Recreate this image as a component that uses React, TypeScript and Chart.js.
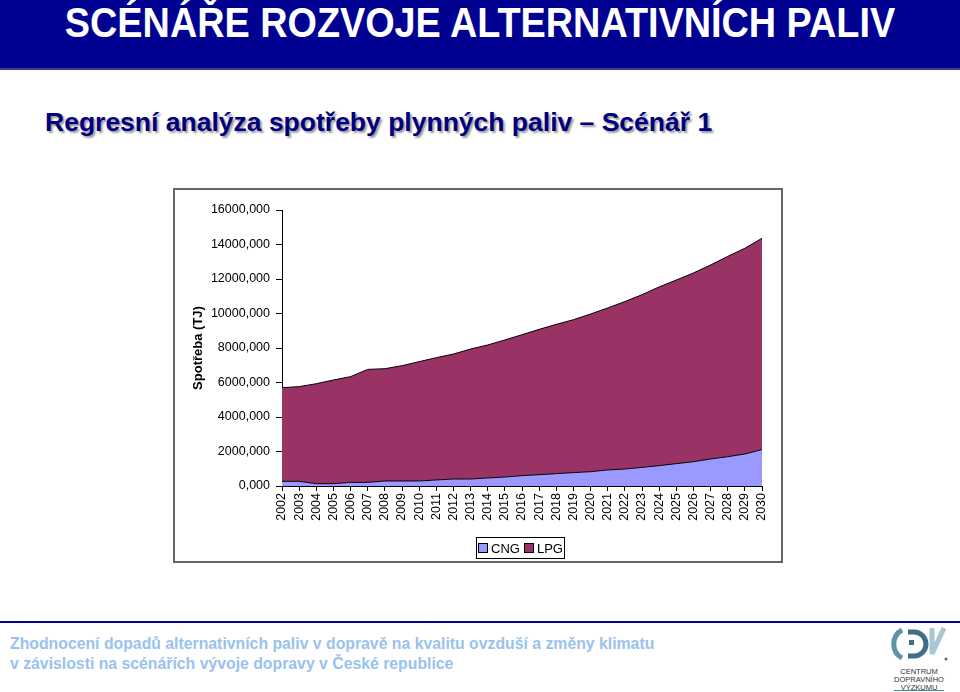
import React, { useEffect, useRef } from 'react';
import { Chart, registerables } from 'chart.js';

Chart.register(...registerables);

const years = ['2002','2003','2004','2005','2006','2007','2008','2009','2010','2011','2012','2013','2014','2015','2016','2017','2018','2019','2020','2021','2022','2023','2024','2025','2026','2027','2028','2029','2030'];
const cngValues = [270,270,135,135,210,210,290,290,290,350,405,405,465,520,600,655,715,775,830,930,985,1080,1180,1295,1410,1565,1700,1855,2110];
const lpgValues = [5430,5490,5795,6010,6130,6550,6510,6685,6920,7090,7245,7535,7710,7945,8170,8425,8655,8865,9140,9390,9705,10010,10360,10645,10940,11245,11610,11925,12250];
const seriesNames = ['CNG', 'LPG'];
const seriesColors = ['#9999ff', '#993366'];
const yMax = 16000;
const yStep = 2000;

const FONT = '"Liberation Sans", Arial, sans-serif';

function ChartBox() {
  const ref = useRef<HTMLCanvasElement | null>(null);
  useEffect(() => {
    if (!ref.current) return;
    const chart = new Chart(ref.current, {
      type: 'line',
      data: {
        labels: years,
        datasets: [
          {
            label: seriesNames[0],
            data: cngValues,
            backgroundColor: seriesColors[0],
            borderColor: '#000000',
            borderWidth: 1,
            fill: 'origin',
            pointRadius: 0,
            tension: 0,
          },
          {
            label: seriesNames[1],
            data: lpgValues,
            backgroundColor: seriesColors[1],
            borderColor: '#000000',
            borderWidth: 1,
            fill: '-1',
            pointRadius: 0,
            tension: 0,
          },
        ],
      },
      options: {
        animation: false,
        responsive: false,
        maintainAspectRatio: false,
        layout: { padding: { left: 0, right: 19, top: 20, bottom: 0 } },
        plugins: { legend: { display: false }, tooltip: { enabled: false } },
        scales: {
          x: {
            offset: false,
            grid: { drawOnChartArea: false, tickLength: 5, color: '#000' },
            border: { color: '#000' },
            ticks: {
              minRotation: 90,
              maxRotation: 90,
              autoSkip: false,
              color: '#000',
              padding: 2,
              font: { family: FONT, size: 12.5 },
            },
            afterFit: (s: any) => { s.height = 75; },
          },
          y: {
            stacked: true,
            min: 0,
            max: yMax,
            grid: { drawOnChartArea: false, tickLength: 6, color: '#000' },
            border: { color: '#000' },
            ticks: {
              stepSize: yStep,
              color: '#000',
              padding: 6,
              font: { family: FONT, size: 12.5 },
              callback: (v: any) => Number(v).toFixed(3).replace('.', ','),
            },
            title: {
              display: true,
              text: 'Spotřeba (TJ)',
              color: '#000',
              font: { family: FONT, size: 13, weight: 'bold' },
              padding: { top: 16, bottom: 0 },
            },
            afterFit: (s: any) => { s.width = 107; },
          },
        },
      },
    });
    return () => chart.destroy();
  }, []);
  return <canvas ref={ref} width={606} height={371} style={{ display: 'block', width: 606, height: 371 }} />;
}

function Logo() {
  return (
    <div style={{ position: 'absolute', left: 880, top: 624, width: 76, height: 68 }}>
      <svg width={76} height={40} viewBox="0 0 76 40">
        <path d="M22 6 A16 16 0 0 0 22 34" stroke="#5f93a8" strokeWidth={5} fill="none" />
        <path d="M28 8 L34 8 A12 12 0 0 1 34 32 L28 32" stroke="#3f6f86" strokeWidth={5} fill="none" />
        <rect x={29} y={16} width={5} height={5} fill="#3f6f86" />
        <path d="M52 4 L52 30 L64 4" stroke="#a9c6d3" strokeWidth={5} fill="none" />
        <circle cx={66} cy={35} r={1.5} fill="#3f6f86" />
      </svg>
      <div style={{ fontFamily: FONT, fontSize: 7.5, lineHeight: '8px', textAlign: 'center', color: '#333', width: 60, marginLeft: 9 }}>
        CENTRUM<br />DOPRAVNÍHO<br />VÝZKUMU
      </div>
      <div style={{ position: 'absolute', left: 14, top: 66, width: 50, height: 1, background: '#4a8a9a' }} />
    </div>
  );
}

export default function App() {
  useEffect(() => {
    document.body.style.margin = '0';
  }, []);
  return (
    <div style={{ position: 'relative', width: 960, height: 692, background: '#fff', overflow: 'hidden', fontFamily: FONT }}>
      <div style={{ position: 'absolute', left: 0, top: 0, width: 960, height: 68, background: '#000091' }} />
      <div style={{ position: 'absolute', left: 0, top: 68, width: 960, height: 2, background: '#3b3b9a' }} />
      <div style={{ position: 'absolute', left: 0, top: 0, width: 960, height: 46, lineHeight: '46px', textAlign: 'center', color: '#fff', fontWeight: 'bold', fontSize: 42, transform: 'scaleX(0.9)', transformOrigin: '480px 0' }}>
        SCÉNÁŘE ROZVOJE ALTERNATIVNÍCH PALIV
      </div>
      <div style={{ position: 'absolute', left: 45, top: 107, whiteSpace: 'nowrap', color: '#000080', fontWeight: 'bold', fontSize: 26.5, lineHeight: '30px', textShadow: '2px 2px 2px #9a9a9a' }}>
        Regresní analýza spotřeby plynných paliv – Scénář 1
      </div>

      <div style={{ position: 'absolute', left: 173, top: 188, width: 606, height: 371, border: '2px solid #666' }}>
        <ChartBox />
        <div style={{ position: 'absolute', left: 301, top: 347, width: 87, height: 20, border: '1px solid #000', display: 'flex', alignItems: 'center', justifyContent: 'center', gap: 4, fontSize: 13, color: '#000' }}>
          {seriesNames.map((n, i) => (
            <span key={n} style={{ display: 'flex', alignItems: 'center' }}>
              <span style={{ display: 'inline-block', width: 8, height: 8, background: seriesColors[i], border: '1px solid #000', marginRight: 3 }} />
              {n}
            </span>
          ))}
        </div>
      </div>

      <div style={{ position: 'absolute', left: 0, top: 621, width: 960, height: 2, background: '#000099' }} />
      <div style={{ position: 'absolute', left: 10, top: 634, whiteSpace: 'nowrap', color: '#99c2ee', fontWeight: 'bold', fontSize: 15.8, lineHeight: '20px' }}>
        Zhodnocení dopadů alternativních paliv v dopravě na kvalitu ovzduší a změny klimatu
        <br />
        v závislosti na scénářích vývoje dopravy v České republice
      </div>
      <Logo />
    </div>
  );
}
